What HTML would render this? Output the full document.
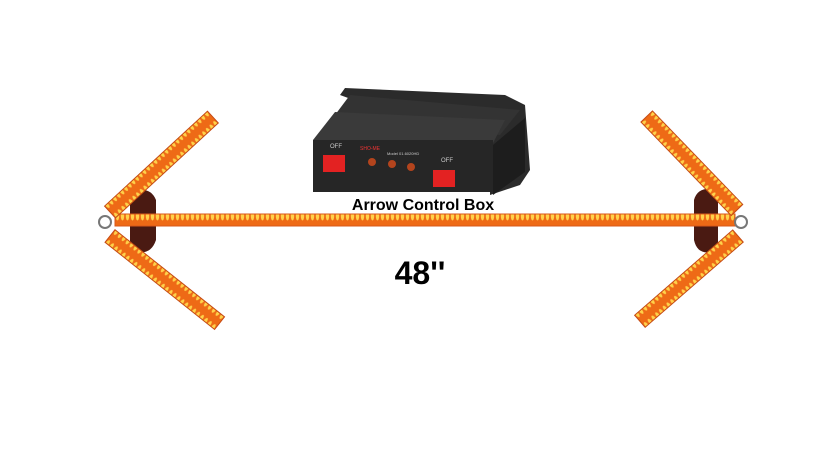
<!DOCTYPE html>
<html><head><meta charset="utf-8"><style>
html,body{margin:0;padding:0;background:#fff;}
svg{display:block;}
</style></head><body>
<svg width="840" height="450" viewBox="0 0 840 450" xmlns="http://www.w3.org/2000/svg">
<defs>
<pattern id="dots" x="0" y="0" width="5" height="16" patternUnits="userSpaceOnUse">
<rect width="5" height="16" fill="#ee6a16"/>
<ellipse cx="2.5" cy="8" rx="1.7" ry="4.5" fill="#ffd24a"/>
</pattern>
</defs>
<rect width="840" height="450" fill="#fff"/>
<!-- brackets -->
<path d="M130 192 Q150 185 156 200 L156 240 Q150 258 130 250 Z" fill="#4a1a12"/>
<path d="M718 190 Q698 185 694 200 L694 240 Q698 258 718 250 Z" fill="#4a1a12"/>
<!-- main bar -->
<rect x="115" y="214" width="620" height="12" fill="url(#dots)" stroke="#d8581a" stroke-width="1"/>
<!-- left arms -->
<g transform="translate(110,212) rotate(-42.7)"><rect x="0" y="-8" width="140" height="16" fill="url(#dots)" stroke="#c54a14"/></g>
<g transform="translate(110,236) rotate(38.5)"><rect x="0" y="-8" width="140" height="16" fill="url(#dots)" stroke="#c54a14"/></g>
<!-- right arms -->
<g transform="translate(737,210) rotate(226)"><rect x="0" y="-8" width="130" height="16" fill="url(#dots)" stroke="#c54a14"/></g>
<g transform="translate(738,236) rotate(139)"><rect x="0" y="-8" width="130" height="16" fill="url(#dots)" stroke="#c54a14"/></g>
<!-- rings -->
<circle cx="105" cy="222" r="6" fill="none" stroke="#777" stroke-width="2"/>
<circle cx="741" cy="222" r="6" fill="none" stroke="#777" stroke-width="2"/>
<!-- control box -->
<path d="M340 95 L345 88 L505 95 L525 105 L530 170 L520 185 L490 195 L490 150 Z" fill="#2b2b2b"/>
<path d="M335 115 L350 95 L520 110 L500 135 Z" fill="#333"/>
<path d="M313 140 L335 112 L505 120 L492 145 Z" fill="#3a3a3a"/>
<rect x="313" y="140" width="180" height="52" fill="#262626"/>
<path d="M493 145 L525 118 L525 172 L493 195 Z" fill="#1d1d1d"/>
<rect x="323" y="155" width="22" height="17" fill="#e32222"/>
<rect x="433" y="170" width="22" height="17" fill="#e32222"/>
<circle cx="372" cy="162" r="4" fill="#b3441d"/>
<circle cx="392" cy="164" r="4" fill="#b3441d"/>
<circle cx="411" cy="167" r="4" fill="#b3441d"/>
<text x="330" y="148" font-family="Liberation Sans" font-size="6" fill="#ccc">OFF</text>
<text x="360" y="150" font-family="Liberation Sans" font-size="5" fill="#e33">SHO-ME</text>
<text x="387" y="155" font-family="Liberation Sans" font-size="4" fill="#ccc">Model 01.6020HD</text>
<text x="441" y="162" font-family="Liberation Sans" font-size="6" fill="#ccc">OFF</text>
<!-- labels -->
<text x="423" y="210" text-anchor="middle" font-family="Liberation Sans" font-weight="bold" font-size="16" fill="#000">Arrow Control Box</text>
<text x="420" y="284" text-anchor="middle" font-family="Liberation Sans" font-weight="bold" font-size="32" fill="#000">48''</text>
</svg>
</body></html>
